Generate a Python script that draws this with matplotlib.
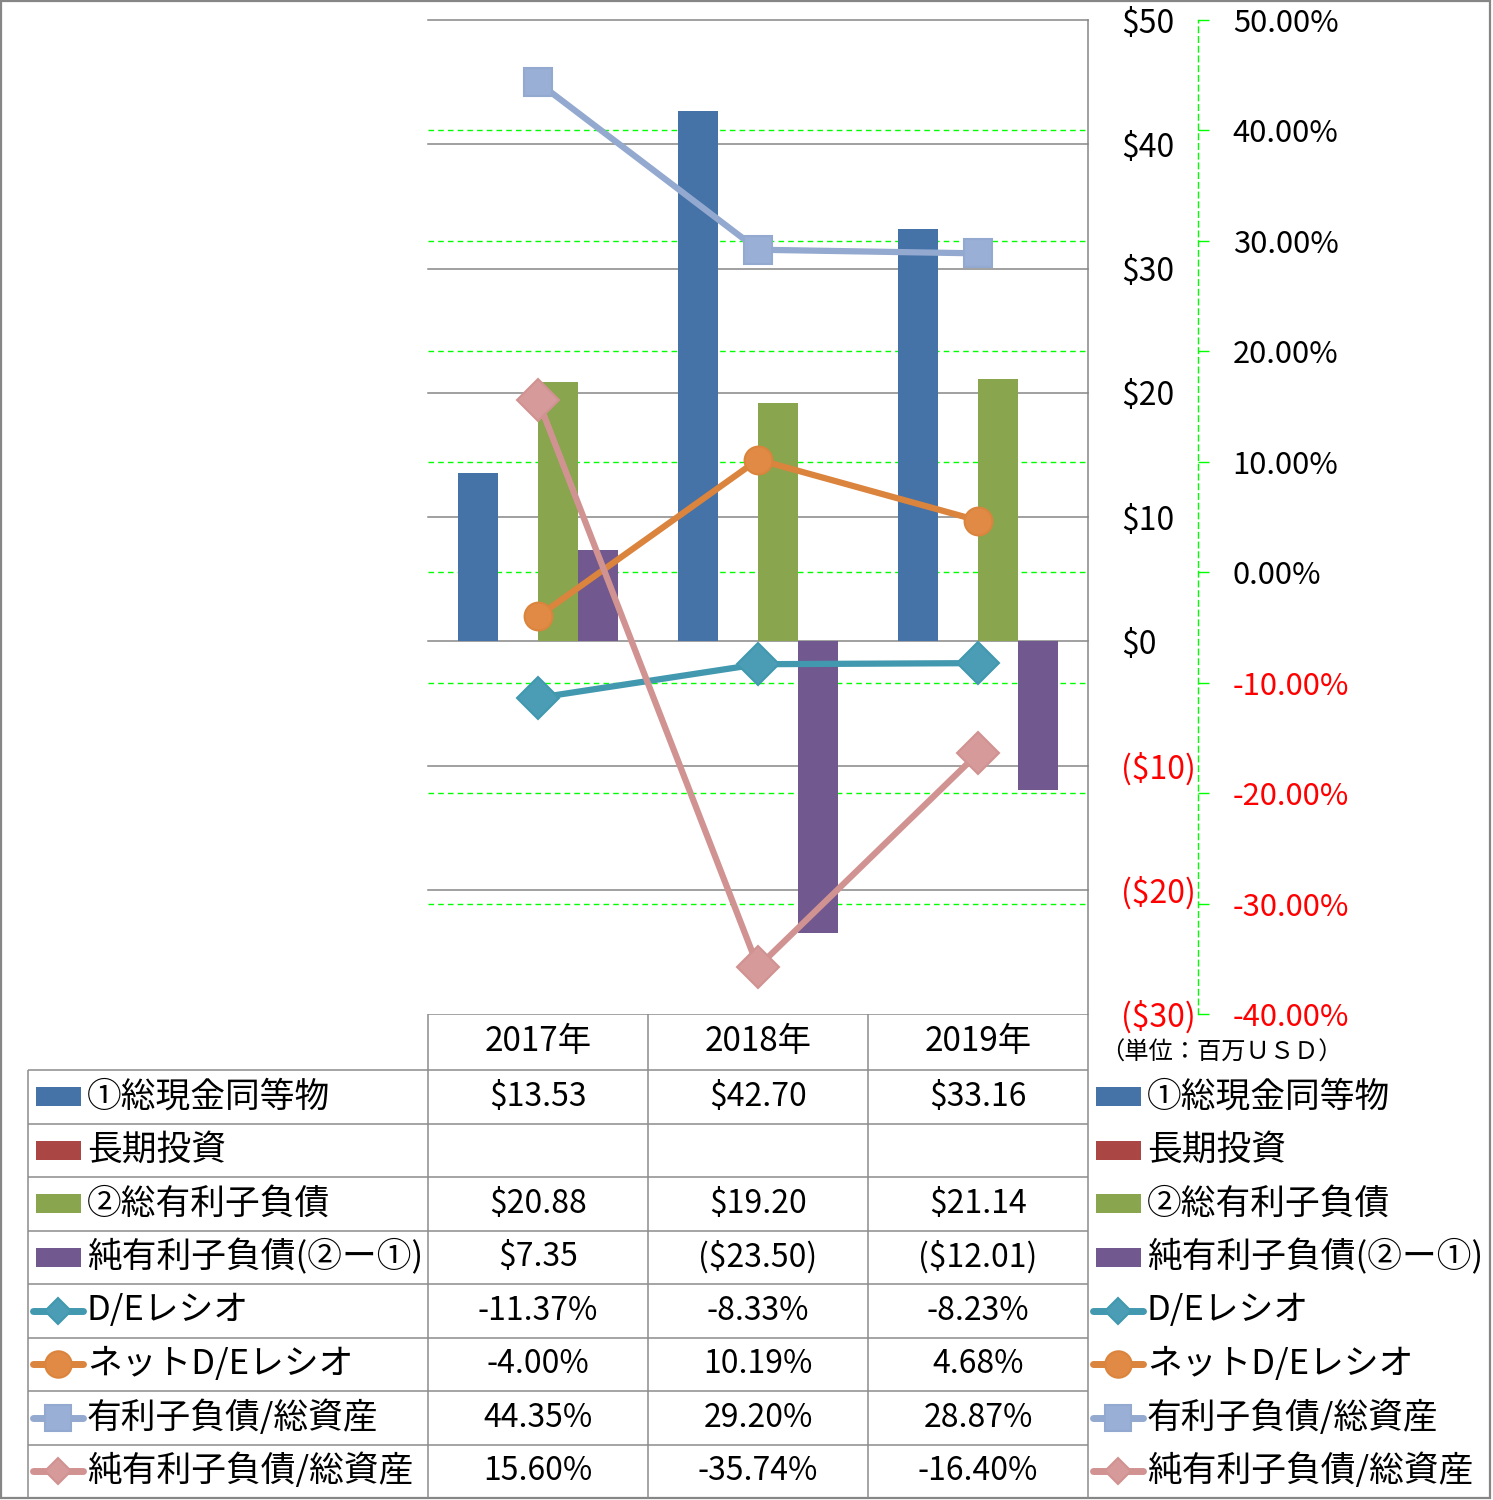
import numpy as np
import matplotlib
matplotlib.use('Agg')
import matplotlib.pyplot as plt
from matplotlib.patches import Rectangle

plt.rcParams['font.family'] = ['Noto Sans CJK JP', 'DejaVu Sans']

# ---------------- data ----------------
years = ['2017年', '2018年', '2019年']
bar_names = ['①総現金同等物', '長期投資', '②総有利子負債', '純有利子負債(②ー①)']
cash = [13.53, 42.70, 33.16]
lt_invest = [np.nan, np.nan, np.nan]
debt = [20.88, 19.20, 21.14]
net_debt = [7.35, -23.50, -12.01]
line_names = ['D/Eレシオ', 'ネットD/Eレシオ', '有利子負債/総資産', '純有利子負債/総資産']
de_ratio = [-11.37, -8.33, -8.23]
net_de_ratio = [-4.00, 10.19, 4.68]
debt_assets = [44.35, 29.20, 28.87]
net_debt_assets = [15.60, -35.74, -16.40]
usd_ticks = [-30, -20, -10, 0, 10, 20, 30, 40, 50]
pct_ticks = [-40, -30, -20, -10, 0, 10, 20, 30, 40, 50]
unit_label = '（単位：百万ＵＳＤ）'

# ---------------- styles ----------------
bar_colors = ['#4572A7', '#AA4643', '#89A54E', '#71588F']
line_colors = ['#4198AF', '#DB843D', '#93A9CF', '#D19392']
line_faces = ['#4A9DB5', '#E08A45', '#9AAFD6', '#D59A99']
line_markers = ['D', 'o', 's', 'D']
plot_ms = [21, 20, 20, 21]
leg_ms = [13.5, 19, 19, 13.5]
GREEN = '#00FF00'
GRID_GRAY = '#868686'
TABLE_GRAY = '#8C8C8C'
FS = 23
FS_JP = 25

W, H = 1493, 1500
L, R, T, B = 428, 1088, 20, 1014


def usd_fmt(v, dec=0):
    if v < 0:
        return f'(${-v:.{dec}f})'
    return f'${v:.{dec}f}'


def pct_fmt(v):
    return f'{v:.2f}%'


fig = plt.figure(figsize=(W / 100, H / 100), dpi=100)

# table / legend canvas (pixel coordinates)
axt = fig.add_axes([0, 0, 1, 1])
axt.set_xlim(0, W)
axt.set_ylim(H, 0)
axt.axis('off')

# percent base axis: green grid + right axis
ax = fig.add_axes([L / W, 1 - B / H, (R - L) / W, (B - T) / H])
ax.set_xlim(-0.5, 2.5)
ax.set_ylim(-40, 50)
ax.set_xticks([])

# dollar axis: bars + gray grid
axb = ax.twinx()
# percent lines axis
axl = ax.twinx()

ax.set_yticks(pct_ticks)
for v in pct_ticks[1:-1]:
    ax.axhline(v, color=GREEN, linestyle=(0, (4, 3)), linewidth=1.0, zorder=0.5)
ax.yaxis.tick_right()
ax.yaxis.set_label_position('right')
for s in ['left', 'top', 'bottom']:
    ax.spines[s].set_visible(False)
ax.spines['right'].set_visible(True)
ax.spines['right'].set_position(('axes', (1198 - L) / (R - L)))
ax.spines['right'].set_color(GREEN)
ax.spines['right'].set_linestyle((0, (4, 3)))
ax.spines['right'].set_linewidth(1.0)
ax.tick_params(axis='y', which='both', left=False, labelleft=False,
               right=True, labelright=True, direction='out', length=8,
               width=1.0, color=GREEN, pad=17, labelsize=22.3)
ax.set_yticklabels([pct_fmt(v) for v in pct_ticks])
for lab, v in zip(ax.get_yticklabels(), pct_ticks):
    lab.set_color('#FF0000' if v < 0 else 'black')

axb.set_ylim(-30, 50)
axb.set_yticks(usd_ticks)
for v in usd_ticks[1:]:
    axb.axhline(v, color=GRID_GRAY, linestyle='-', linewidth=1.1, zorder=0.5,
                clip_on=False)
for s in ['left', 'top', 'bottom']:
    axb.spines[s].set_visible(False)
axb.spines['right'].set_color(GRID_GRAY)
axb.spines['right'].set_linewidth(1.1)
axb.tick_params(axis='y', length=0, pad=24, labelsize=FS)
axb.set_yticklabels([usd_fmt(v) for v in usd_ticks])
for lab, v in zip(axb.get_yticklabels(), usd_ticks):
    lab.set_color('#FF0000' if v < 0 else 'black')

x = np.arange(len(years))
bw = 40 / 220
offsets = [-1.5 * bw, -0.5 * bw, 0.5 * bw, 1.5 * bw]
bar_series = [cash, lt_invest, debt, net_debt]
for vals, off, c in zip(bar_series, offsets, bar_colors):
    axb.bar(x + off, vals, width=bw, color=c, linewidth=0, zorder=2)

axl.set_ylim(-40, 50)
axl.axis('off')
line_series = [de_ratio, net_de_ratio, debt_assets, net_debt_assets]
for vals, c, fc, m, ms in zip(line_series, line_colors, line_faces, line_markers, plot_ms):
    axl.plot(x, vals, color=c, linewidth=4.5, marker=m, markersize=ms,
             markerfacecolor=fc, markeredgecolor=c, markeredgewidth=1.5,
             solid_joinstyle='round', clip_on=False)

# ---------------- data table ----------------
col_edges = [L, 648, 868, R]
col_centers = [(a + b) / 2 for a, b in zip(col_edges[:-1], col_edges[1:])]
row_top = 1070
row_h = 53.5
n_rows = 8
row_edges = [row_top + i * row_h for i in range(n_rows + 1)]
row_centers = [(a + b) / 2 for a, b in zip(row_edges[:-1], row_edges[1:])]

lkw = dict(color=TABLE_GRAY, linewidth=1.1, solid_capstyle='butt')
axt.plot([L, R], [B, B], **lkw)
for y in row_edges[:-1]:
    axt.plot([28, R], [y, y], **lkw)
axt.plot([28, 28], [row_top, row_edges[-1]], **lkw)
for xe in col_edges:
    axt.plot([xe, xe], [B, row_edges[-1]], **lkw)

for cx, yr in zip(col_centers, years):
    axt.text(cx, (B + row_top) / 2, yr, ha='center', va='center', fontsize=FS_JP - 1)

table_rows = []
for vals in bar_series:
    table_rows.append(['' if np.isnan(v) else usd_fmt(v, 2) for v in vals])
for vals in line_series:
    table_rows.append([pct_fmt(v) for v in vals])
for yc, cells in zip(row_centers, table_rows):
    for cx, t in zip(col_centers, cells):
        axt.text(cx, yc, t, ha='center', va='center', fontsize=FS)

# legend keys (left in table and right legend)
all_names = bar_names + line_names


def draw_key(i, xk, yc):
    if i < 4:
        axt.add_patch(Rectangle((xk, yc - 9.5), 45, 19, facecolor=bar_colors[i],
                                edgecolor='none'))
        return xk + 51
    j = i - 4
    axt.plot([xk - 3, xk + 47], [yc, yc], color=line_colors[j], linewidth=5,
             solid_capstyle='round')
    axt.plot([xk + 22], [yc], marker=line_markers[j], markersize=leg_ms[j],
             markerfacecolor=line_faces[j], markeredgecolor=line_colors[j],
             markeredgewidth=1.5)
    return xk + 51


for i, (name, yc) in enumerate(zip(all_names, row_centers)):
    tx = draw_key(i, 36, yc)
    axt.text(tx, yc, name, ha='left', va='center', fontsize=FS_JP)
    tx2 = draw_key(i, 1096, yc)
    axt.text(tx2, yc, name, ha='left', va='center', fontsize=FS_JP)

axt.text(1221, 1053, unit_label, ha='center', va='center', fontsize=17.5)

# outer border
axt.add_patch(Rectangle((1, 1), 1489, 1497, facecolor='none',
                        edgecolor='#868686', linewidth=1.6))

fig.savefig('out.png', dpi=100)
